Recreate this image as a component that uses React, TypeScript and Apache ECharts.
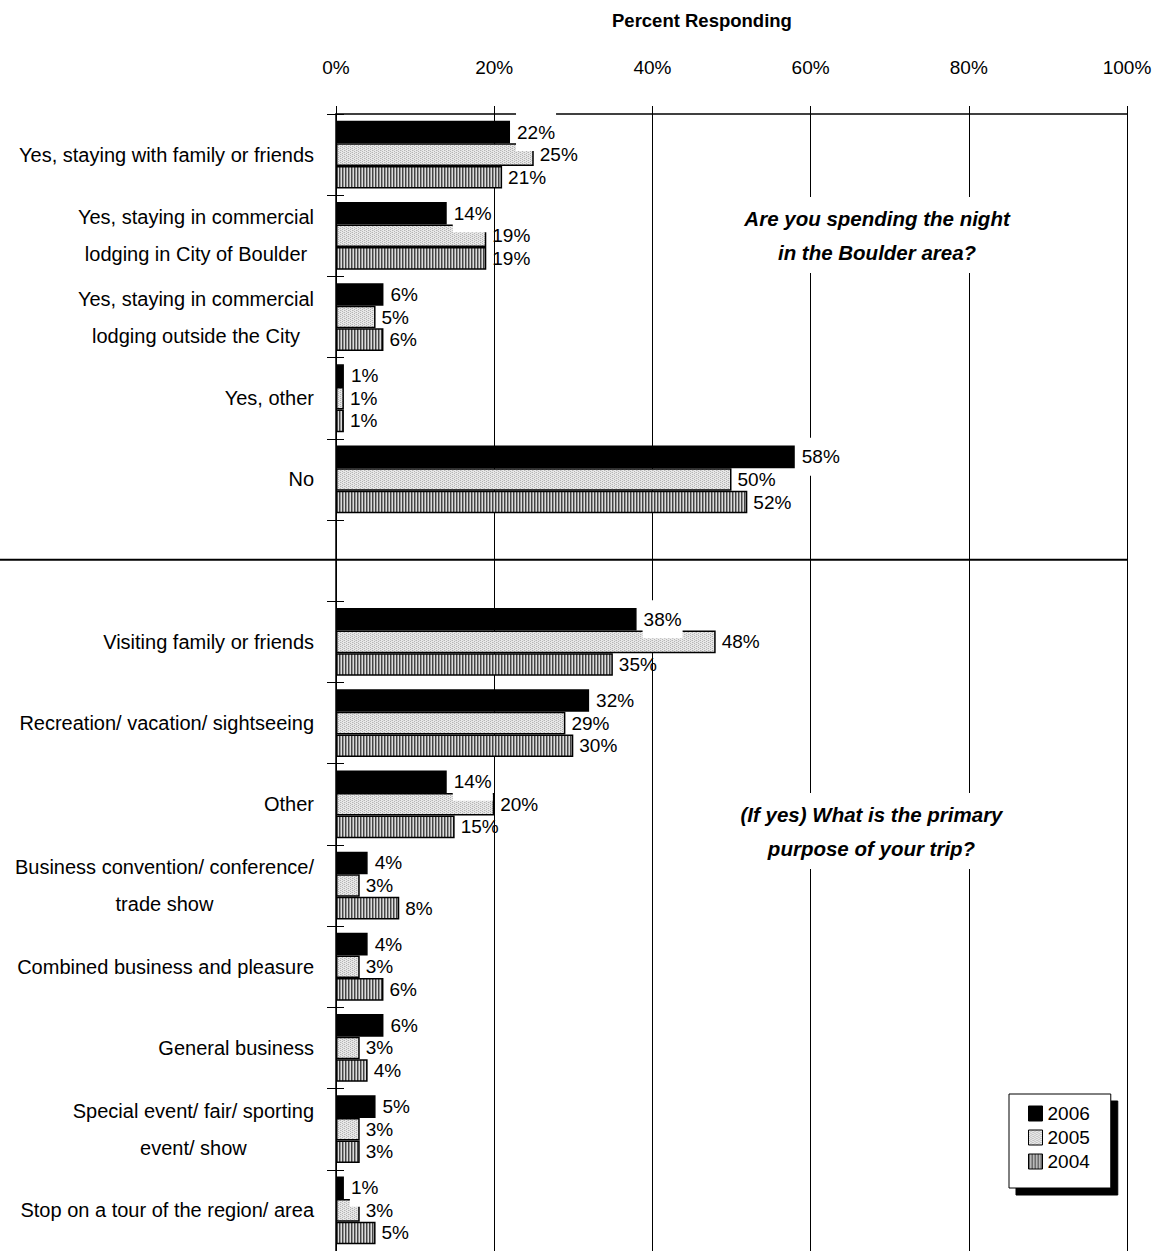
import React, { useEffect, useRef } from 'react';
import * as echarts from 'echarts';

const FONT = '"Liberation Sans", Arial, Helvetica, sans-serif';

// Top panel: "Are you spending the night in the Boulder area?"
const topCategories = [
  'Yes, staying with family or friends',
  'Yes, staying in commercial\nlodging in City of Boulder',
  'Yes, staying in commercial\nlodging outside the City',
  'Yes, other',
  'No',
];
const top2006 = [22, 14, 6, 1, 58];
const top2005 = [25, 19, 5, 1, 50];
const top2004 = [21, 19, 6, 1, 52];

// Bottom panel: "(If yes) What is the primary purpose of your trip?"
const bottomCategories = [
  'Visiting family or friends',
  'Recreation/ vacation/ sightseeing',
  'Other',
  'Business convention/ conference/\ntrade show',
  'Combined business and pleasure',
  'General business',
  'Special event/ fair/ sporting\nevent/ show',
  'Stop on a tour of the region/ area',
];
const bottom2006 = [38, 32, 14, 4, 4, 6, 5, 1];
const bottom2005 = [48, 29, 20, 3, 3, 3, 3, 3];
const bottom2004 = [35, 30, 15, 8, 6, 4, 3, 5];

const years = ['2006', '2005', '2004'];
const axisMin = 0;
const axisMax = 100;
const axisStep = 20;
const axisTitle = 'Percent Responding';
const topQuestion = 'Are you spending the night\nin the Boulder area?';
const bottomQuestion = '(If yes) What is the primary\npurpose of your trip?';

function makeCanvas(w: number, h: number, draw: (ctx: CanvasRenderingContext2D) => void) {
  const c = document.createElement('canvas');
  c.width = w;
  c.height = h;
  const ctx = c.getContext('2d') as CanvasRenderingContext2D;
  draw(ctx);
  return c;
}

export default function App() {
  const ref = useRef<HTMLDivElement>(null);

  useEffect(() => {
    if (!ref.current) return;
    const chart = echarts.init(ref.current, undefined, { renderer: 'svg' });

    const sepIndex = topCategories.length;
    const categories = [...topCategories, '', ...bottomCategories];
    const s2006 = [...top2006, '-', ...bottom2006];
    const s2005 = [...top2005, '-', ...bottom2005];
    const s2004 = [...top2004, '-', ...bottom2004];

    const dotted = makeCanvas(4, 4, (ctx) => {
      ctx.fillStyle = '#e8e8e8';
      ctx.fillRect(0, 0, 4, 4);
      ctx.fillStyle = '#b4b4b4';
      ctx.fillRect(0, 0, 1, 1);
      ctx.fillRect(2, 1, 1, 1);
      ctx.fillRect(0, 2, 1, 1);
      ctx.fillRect(2, 3, 1, 1);
      ctx.fillStyle = '#d2d2d2';
      ctx.fillRect(1, 2, 1, 1);
      ctx.fillRect(3, 0, 1, 1);
    });
    const striped = makeCanvas(3, 1, (ctx) => {
      ctx.fillStyle = '#454545';
      ctx.fillRect(0, 0, 1, 1);
      ctx.fillStyle = '#959595';
      ctx.fillRect(1, 0, 1, 1);
      ctx.fillStyle = '#dcdcdc';
      ctx.fillRect(2, 0, 1, 1);
    });

    const fills: any[] = [
      '#000000',
      { image: dotted, repeat: 'repeat' },
      { image: striped, repeat: 'repeat' },
    ];
    const datas = [s2006, s2005, s2004];

    const series = years.map((y, i) => ({
      name: y,
      type: 'bar',
      yAxisIndex: 0,
      data: datas[i],
      barGap: '0%',
      barCategoryGap: '16.5%',
      itemStyle: { color: fills[i], borderColor: '#000', borderWidth: 1.5 },
      label: {
        show: true,
        position: 'right',
        distance: 6,
        formatter: '{c}%',
        fontSize: 19,
        fontFamily: FONT,
        color: '#000',
        ...(i === 0
          ? { backgroundColor: '#fff', padding: [9, 1, 9, 1], lineHeight: 20 }
          : {}),
      },
    }));

    const gridLeft = 336;
    const gridTop = 114;
    const gridWidth = 791;
    const gridHeight = 1141;

    chart.setOption({
      animation: false,
      title: {
        text: axisTitle,
        left: 612,
        top: 11,
        padding: 0,
        textStyle: { fontSize: 18.5, fontWeight: 'bold', fontFamily: FONT, color: '#000' },
      },
      legend: {
        data: years,
        orient: 'vertical',
        left: 1009,
        top: 1094,
        icon: 'rect',
        itemWidth: 14,
        itemHeight: 15,
        itemGap: 5,
        padding: [10, 21, 17, 19],
        backgroundColor: '#fff',
        borderColor: '#000',
        borderWidth: 1,
        shadowColor: '#000',
        shadowBlur: 0,
        shadowOffsetX: 7,
        shadowOffsetY: 7,
        selectedMode: false,
        itemStyle: { borderColor: '#000', borderWidth: 1 },
        textStyle: { fontSize: 19, fontFamily: FONT, color: '#000' },
      },
      grid: { left: gridLeft, top: gridTop, width: gridWidth, height: gridHeight },
      xAxis: {
        type: 'value',
        position: 'top',
        min: axisMin,
        max: axisMax,
        interval: axisStep,
        axisLine: { show: true, lineStyle: { color: '#000', width: 1.5 } },
        axisTick: { show: true, length: 8, lineStyle: { color: '#000', width: 1 } },
        axisLabel: { formatter: '{value}%', margin: 37, fontSize: 19, fontFamily: FONT, color: '#000' },
        splitLine: { show: true, lineStyle: { color: '#000', width: 1 } },
      },
      yAxis: [
        {
          type: 'category',
          inverse: true,
          data: categories,
          axisLine: { show: true, lineStyle: { color: '#000', width: 1.5 } },
          axisTick: { show: true, length: 9, lineStyle: { color: '#000', width: 1 } },
          axisLabel: {
            interval: 0,
            margin: 22,
            align: 'right',
            formatter: (v: string) =>
              v
                .split('\n')
                .map((line) => `{c|${line}}`)
                .join('\n'),
            rich: {
              c: { align: 'center', fontSize: 20, lineHeight: 37, fontFamily: FONT, color: '#000' },
            },
          },
          splitLine: { show: false },
        },
        {
          type: 'category',
          inverse: true,
          position: 'left',
          offset: 0,
          data: categories,
          axisLine: { show: false },
          axisTick: { show: true, inside: true, length: 8, lineStyle: { color: '#000', width: 1 } },
          axisLabel: { show: false },
          splitLine: { show: false },
        },
      ],
      series,
    });

    const p1 = chart.convertToPixel({ gridIndex: 0 }, [axisMax, sepIndex]) as number[];
    const topAnchor = chart.convertToPixel({ gridIndex: 0 }, [68.4, 1]) as number[];
    const bottomAnchor = chart.convertToPixel({ gridIndex: 0 }, [67.7, 8]) as number[];

    chart.setOption({
      graphic: [
        {
          type: 'line',
          shape: { x1: 0, y1: p1[1] - 1, x2: p1[0], y2: p1[1] - 1 },
          style: { stroke: '#000', lineWidth: 2 },
          z: 10,
        },
        {
          type: 'text',
          x: topAnchor[0],
          y: 197,
          style: {
            text: topQuestion,
            font: `italic bold 20.5px ${FONT}`,
            fill: '#000',
            align: 'center',
            verticalAlign: 'top',
            lineHeight: 34,
            backgroundColor: '#fff',
            padding: [4, 6, 4, 6],
          },
          z: 10,
        },
        {
          type: 'text',
          x: bottomAnchor[0],
          y: 793,
          style: {
            text: bottomQuestion,
            font: `italic bold 20.5px ${FONT}`,
            fill: '#000',
            align: 'center',
            verticalAlign: 'top',
            lineHeight: 34,
            backgroundColor: '#fff',
            padding: [4, 6, 4, 6],
          },
          z: 10,
        },
      ],
    });

    return () => {
      chart.dispose();
    };
  }, []);

  return (
    <div
      ref={ref}
      style={{ position: 'absolute', left: 0, top: 0, width: 1157, height: 1251, background: '#fff' }}
    />
  );
}
